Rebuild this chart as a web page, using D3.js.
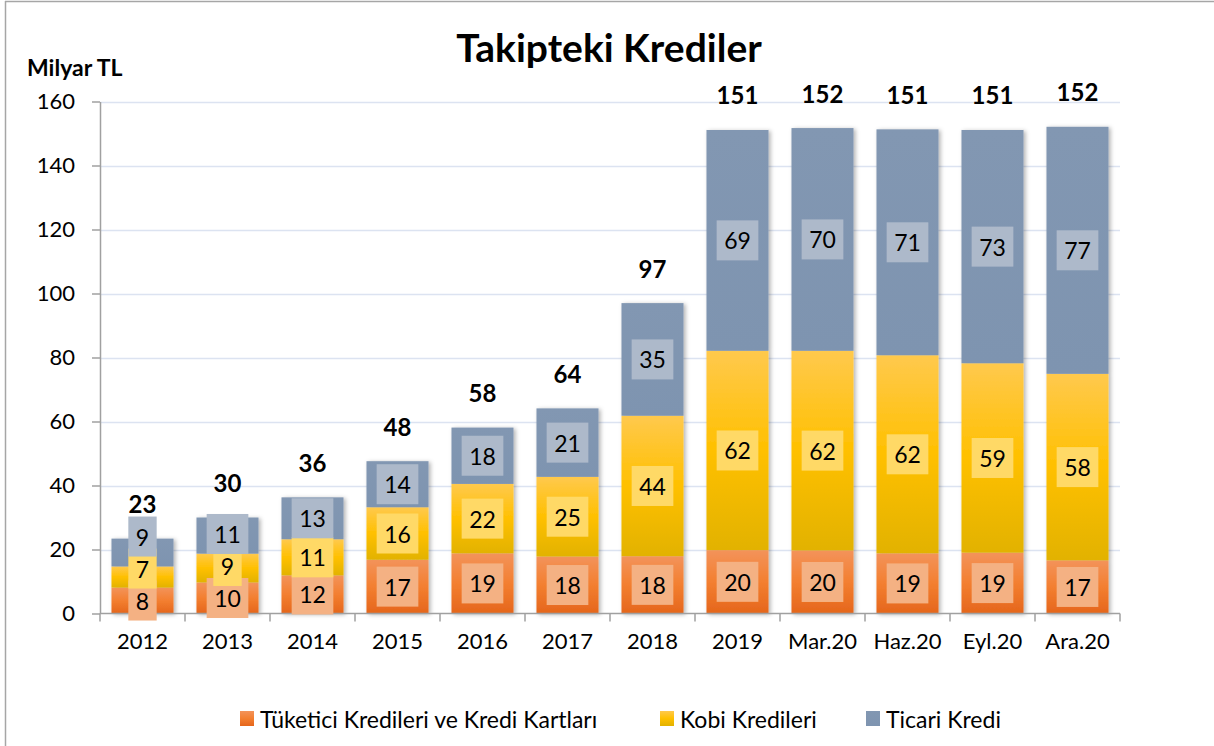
<!DOCTYPE html>
<html>
<head>
<meta charset="utf-8">
<script src="https://cdn.jsdelivr.net/npm/d3@7"></script>
<style>
  body { margin: 0; background: #fff; }
  svg { font-family: Lato, "Open Sans", sans-serif; }
</style>
</head>
<body>
<svg width="1214" height="746"></svg>
<script>
// values (Milyar TL)
const categories = ["2012", "2013", "2014", "2015", "2016", "2017", "2018", "2019", "Mar.20", "Haz.20", "Eyl.20", "Ara.20"];
const tuketici = [8.1, 9.7, 11.9, 16.8, 18.8, 17.8, 17.9, 19.8, 19.7, 18.8, 19.0, 16.6];
const kobi = [6.6, 9.0, 11.3, 16.4, 21.7, 24.9, 43.9, 62.3, 62.4, 61.9, 59.2, 58.3];
const ticari = [8.7, 11.3, 13.1, 14.4, 17.6, 21.4, 35.2, 69.0, 69.6, 70.6, 72.9, 77.2];
const yTicks = [0, 20, 40, 60, 80, 100, 120, 140, 160];
const seriesNames = ["Tüketici Kredileri ve Kredi Kartları", "Kobi Kredileri", "Ticari Kredi"];

const svg = d3.select("svg");
const width = 1214, height = 746;
const margin = { top: 101.5, right: 94, bottom: 132.5, left: 100 };

//rows for the stack
const rows = categories.map((c, i) => ({ cat: c, t: tuketici[i], k: kobi[i], c2: ticari[i] }));
const keys = ["t", "k", "c2"];
const stacked = d3.stack().keys(keys)(rows);

const x = d3.scaleBand()
  .domain(categories)
  .range([margin.left, width - margin.right])
  .paddingInner(0.27)
  .paddingOuter(0.135);

const y = d3.scaleLinear()
  .domain([0, 160])
  .range([height - margin.bottom, margin.top]);

// gradients + shadow
const defs = svg.append("defs");
function grad(id, stops) {
  const g = defs.append("linearGradient").attr("id", id)
    .attr("x1", 0).attr("y1", 0).attr("x2", 0).attr("y2", 1);
  stops.forEach(s => g.append("stop").attr("offset", s[0]).attr("stop-color", s[1]));
}
grad("gT", [[0, "#f3935a"], [0.5, "#f37f30"], [1, "#e5661c"]]);
grad("gK", [[0, "#ffc94d"], [0.5, "#ffc000"], [1, "#e2b200"]]);
grad("gC", [[0, "#8297b2"], [1, "#7e94b0"]]);
const fills = ["url(#gT)", "url(#gK)", "url(#gC)"];
const boxFills = ["#f4b183", "#ffd966", "#adb9ca"];

defs.append("filter").attr("id", "shadow")
  .attr("x", "-20%").attr("y", "-20%").attr("width", "140%").attr("height", "140%")
  .append("feDropShadow")
  .attr("dx", 2).attr("dy", 1).attr("stdDeviation", 2)
  .attr("flood-color", "#000").attr("flood-opacity", 0.3);

// frame (left and top edge only visible)
svg.append("line").attr("x1", 5.5).attr("x2", 5.5).attr("y1", 1).attr("y2", height)
  .attr("stroke", "#a6a6a6").attr("stroke-width", 1.5);
svg.append("line").attr("x1", 5).attr("x2", width).attr("y1", 1.5).attr("y2", 1.5)
  .attr("stroke", "#a6a6a6").attr("stroke-width", 1.5);

// grid lines
svg.append("g").selectAll("line")
  .data(yTicks.filter(d => d > 0))
  .join("line")
  .attr("x1", margin.left).attr("x2", width - margin.right)
  .attr("y1", d => Math.round(y(d)) + 0.5).attr("y2", d => Math.round(y(d)) + 0.5)
  .attr("stroke", "#dce3f1").attr("stroke-width", 1.5);

// y axis
const yAxis = svg.append("g")
  .attr("transform", `translate(${margin.left},0)`)
  .call(d3.axisLeft(y).tickValues(yTicks).tickSize(8).tickSizeOuter(0).tickPadding(17));
yAxis.select(".domain").attr("stroke", "#a0a0a0").attr("stroke-width", 1.5);
yAxis.selectAll(".tick line").attr("stroke", "#a0a0a0").attr("stroke-width", 1.5);
yAxis.selectAll(".tick text").attr("font-size", "22px").attr("fill", "#000")
  .attr("font-family", "Lato, sans-serif");

svg.append("text")
  .attr("x", 27).attr("y", 76)
  .attr("font-size", "23px").attr("font-weight", "bold")
  .text("Milyar TL");

// bars
const layers = svg.append("g").attr("filter", "url(#shadow)");
stacked.forEach((s, si) => {
  layers.append("g").selectAll("rect")
    .data(s)
    .join("rect")
    .attr("x", d => x(d.data.cat))
    .attr("width", x.bandwidth())
    .attr("y", d => y(d[1]))
    .attr("height", d => y(d[0]) - y(d[1]))
    .attr("fill", fills[si]);
});

// x axis
const base = y(0);
svg.append("line")
  .attr("x1", margin.left).attr("x2", width - margin.right)
  .attr("y1", base).attr("y2", base)
  .attr("stroke", "#a0a0a0").attr("stroke-width", 1.5);
svg.append("g").selectAll("line")
  .data(d3.range(categories.length + 1))
  .join("line")
  .attr("x1", i => margin.left + i * x.step())
  .attr("x2", i => margin.left + i * x.step())
  .attr("y1", base).attr("y2", base + 8)
  .attr("stroke", "#a0a0a0").attr("stroke-width", 1.5);
svg.append("g").selectAll("text")
  .data(categories)
  .join("text")
  .attr("x", d => x(d) + x.bandwidth() / 2)
  .attr("y", base + 27)
  .attr("text-anchor", "middle")
  .attr("dominant-baseline", "central")
  .attr("font-size", "22px")
  .text(d => d);

// data labels, pushed upward when they would collide
const labelG = svg.append("g");
rows.forEach((r, i) => {
  let prevY = Infinity;
  const cx = x(r.cat) + x.bandwidth() / 2;
  stacked.forEach((s, si) => {
    const d = s[i];
    let cy = (y(d[0]) + y(d[1])) / 2;
    if (cy > prevY - 32) cy = prevY - 32;
    prevY = cy;
    const g = labelG.append("g");
    const t = g.append("text")
      .attr("x", cx).attr("y", cy)
      .attr("text-anchor", "middle")
      .attr("dominant-baseline", "central")
      .attr("font-size", "23px")
      .text(Math.round(d[1] - d[0]));
    const w = t.node().getComputedTextLength() + 15;
    g.insert("rect", "text")
      .attr("x", cx - w / 2).attr("y", cy - 20)
      .attr("width", w).attr("height", 40)
      .attr("fill", boxFills[si]);
  });
});

// totals
svg.append("g").selectAll("text")
  .data(rows)
  .join("text")
  .attr("x", d => x(d.cat) + x.bandwidth() / 2)
  .attr("y", d => y(d.t + d.k + d.c2) - 35)
  .attr("text-anchor", "middle")
  .attr("dominant-baseline", "central")
  .attr("font-size", "24px").attr("font-weight", "bold")
  .text(d => Math.round(d.t + d.k + d.c2));

// title
svg.append("text")
  .attr("x", 609).attr("y", 62)
  .attr("text-anchor", "middle")
  .attr("font-size", "39px").attr("font-weight", "bold")
  .text("Takipteki Krediler");

// legend
const legendSw = ["url(#gT)", "url(#gK)", "url(#gC)"];
const legendX = [240, 660, 866];
const legend = svg.append("g");
seriesNames.forEach((n, i) => {
  legend.append("rect")
    .attr("x", legendX[i]).attr("y", 711)
    .attr("width", 14).attr("height", 15)
    .attr("fill", legendSw[i]);
  legend.append("text")
    .attr("x", legendX[i] + 20).attr("y", 719)
    .attr("dominant-baseline", "central")
    .attr("font-size", "23px")
    .text(n);
});
</script>
</body>
</html>
